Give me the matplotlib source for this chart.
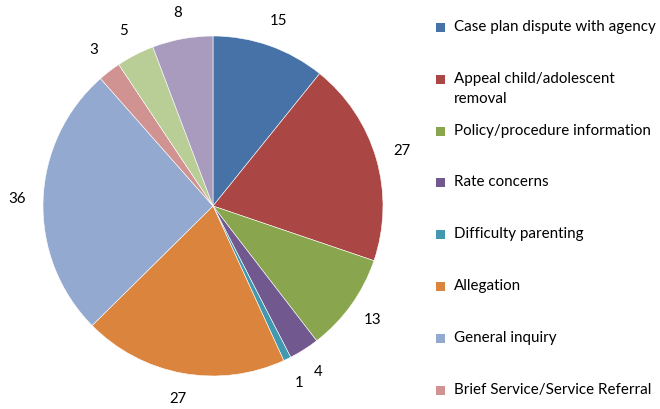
import matplotlib
matplotlib.use("Agg")
import matplotlib.pyplot as plt
from matplotlib.patches import Rectangle

categories = ["Case plan dispute with agency", "Appeal child/adolescent\nremoval",
              "Policy/procedure information", "Rate concerns", "Difficulty parenting",
              "Allegation", "General inquiry", "Brief Service/Service Referral",
              "Other", "Other concerns"]
values = [15, 27, 13, 4, 1, 27, 36, 3, 5, 8]
colors = ["#4672A8", "#AA4744", "#89A64E", "#71588F", "#4198AF",
          "#DB843D", "#93A9CF", "#D19392", "#B9CD96", "#A99BBD"]
legend_shown = 8

plt.rcParams['font.family'] = ['Lato', 'DejaVu Sans']
fig = plt.figure(figsize=(6.6, 4.09), dpi=100)
ax = fig.add_axes([(213 - 170) / 660, (409 - 206 - 170) / 409, 340 / 660, 340 / 409])
wedges, texts = ax.pie(values, colors=colors, startangle=90, counterclock=False,
                       labels=[str(v) for v in values], labeldistance=1.155,
                       textprops=dict(fontsize=10.8, color="#000000"),
                       wedgeprops=dict(linewidth=0.4, edgecolor="white"))
for t in texts:
    t.set_ha("center")
    t.set_va("center")
ax.set_xlim(-1, 1)
ax.set_ylim(-1, 1)
ax.set_aspect("equal")

# legend
x_box = 436 / 660
x_txt = 454 / 660
y0 = 27
step = 51.8
for i in range(legend_shown):
    yc = y0 + i * step
    fig.patches.append(Rectangle((x_box, 1 - (yc + 5) / 409), 9 / 660, 9 / 409,
                                 transform=fig.transFigure, facecolor=colors[i],
                                 edgecolor="none"))
    fig.text(x_txt, 1 - (yc - 7) / 409, categories[i], fontsize=10.9, va="top", ha="left",
             linespacing=1.55)

fig.savefig("out.png", dpi=100)
